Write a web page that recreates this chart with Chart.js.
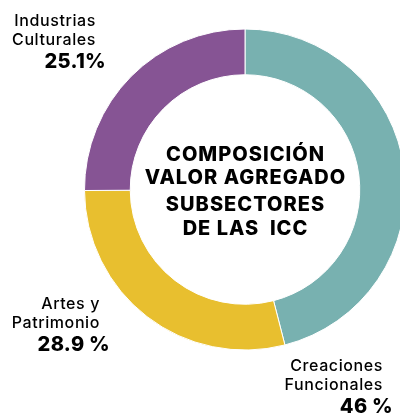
<!DOCTYPE html>
<html>
<head>
<meta charset="utf-8">
<script src="https://cdn.jsdelivr.net/npm/chart.js@4/dist/chart.umd.min.js"></script>
<style>
  html, body { margin: 0; padding: 0; background: #fff; overflow: hidden; }
  #wrap { width: 420px; height: 415px; }
</style>
</head>
<body>
<div id="wrap"><canvas id="grafico" width="420" height="415"></canvas></div>
<script>
// datos del gráfico
const categorias = [["Creaciones", "Funcionales"], ["Artes y", "Patrimonio"], ["Industrias", "Culturales"]];
const valores = [46, 28.9, 25.1];
const etiquetasValor = ["46 %", "28.9 %", "25.1%"];
const colores = ["#78B1B0", "#E8BF2F", "#865494"];
const titulo = ["COMPOSICIÓN", "VALOR AGREGADO", "SUBSECTORES", "DE LAS  ICC"];

const FUENTE = "Inter, 'Noto Sans', sans-serif";

// Posición de cada etiqueta (x = borde derecho del texto)
const posEtiquetas = [
  { x: 383, y: 366, xv: 393 },
  { x: 100, y: 304, xv: 110 },
  { x: 96, y: 21, xv: 106 },
];

const textosPlugin = {
  id: "textos",
  afterDraw(chart) {
    const ctx = chart.ctx;
    const { left, right, top, bottom } = chart.chartArea;
    const cx = (left + right) / 2;
    const cy = (top + bottom) / 2;
    ctx.save();
    ctx.fillStyle = "#000";
    ctx.textBaseline = "middle";

    // título en el centro
    ctx.textAlign = "center";
    ctx.font = "800 20px " + FUENTE;
    ctx.letterSpacing = "1px";
    const dy = [-35, -12, 15, 39];
    titulo.forEach((linea, i) => ctx.fillText(linea, cx + 0.5, cy + dy[i]));

    // etiquetas
    ctx.textAlign = "right";
    categorias.forEach((lineas, i) => {
      const p = posEtiquetas[i];
      ctx.font = "500 16px " + FUENTE;
      ctx.letterSpacing = "0.6px";
      lineas.forEach((l, j) => ctx.fillText(l, p.x, p.y + j * 19));
      ctx.font = "800 20px " + FUENTE;
      ctx.letterSpacing = "0.3px";
      ctx.fillText(etiquetasValor[i], p.xv, p.y + 19 + 22);
    });
    ctx.restore();
  },
};

new Chart(document.getElementById("grafico").getContext("2d"), {
  type: "doughnut",
  data: {
    labels: categorias.map((c) => c.join(" ")),
    datasets: [
      {
        data: valores,
        backgroundColor: colores,
        borderColor: "#ffffff",
        borderWidth: 1,
      },
    ],
  },
  options: {
    responsive: false,
    animation: false,
    cutout: "71.5%",
    layout: {
      padding: { left: 84, right: 14, top: 28.5, bottom: 64.5 },
    },
    plugins: {
      legend: { display: false },
      tooltip: { enabled: false },
    },
  },
  plugins: [textosPlugin],
});
</script>
</body>
</html>
